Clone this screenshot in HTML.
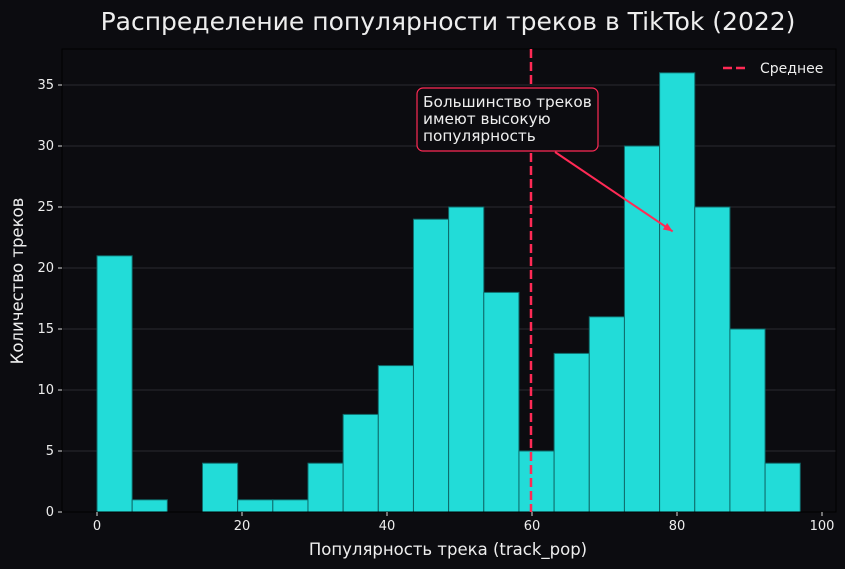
<!DOCTYPE html>
<html><head><meta charset="utf-8"><style>
body{margin:0;background:#0c0c10;}
svg{display:block;font-family:"DejaVu Sans","Liberation Sans",sans-serif;}
</style></head><body>
<svg id="chart" width="845" height="569">
<rect width="845" height="569" fill="#0c0c10"/>
<text x="448" y="30" fill="#eeeeee" font-size="25" text-anchor="middle">Распределение популярности треков в TikTok (2022)</text>
<g id="grid"></g><g id="bars"></g><g id="axes"></g>
<text x="448" y="555" fill="#eeeeee" font-size="16.5" text-anchor="middle">Популярность трека (track_pop)</text>
<text transform="translate(23,281) rotate(-90)" fill="#eeeeee" font-size="16.5" text-anchor="middle">Количество треков</text>
</svg>
<script>
const binCounts=[21,1,0,4,1,1,4,8,12,24,25,18,5,13,16,30,36,25,15,4];
const binStart=0, binEnd=97;
const xTicks=[0,20,40,60,80,100];
const yTicks=[0,5,10,15,20,25,30,35];
const meanValue=59.86;
const annotTarget=[79.4,23];
const NS="http://www.w3.org/2000/svg";
const L=62,R=836,T=49,B=512;
const xs=v=>97+v*7.25, ys=v=>512-v*12.2;
function mk(tag,attrs,parent){const e=document.createElementNS(NS,tag);for(const k in attrs)e.setAttribute(k,attrs[k]);parent.appendChild(e);return e;}
const svg=document.getElementById('chart');
const grid=document.getElementById('grid'),bars=document.getElementById('bars'),axes=document.getElementById('axes');
mk('rect',{x:L,y:T,width:R-L,height:B-T,fill:'#0c0c10'},grid);
yTicks.forEach(v=>{if(v===0)return;const l=mk('line',{x1:L,x2:R,y1:ys(v),y2:ys(v),stroke:'#2a2a30','stroke-width':1},grid);

});
const w=(binEnd-binStart)/binCounts.length;
binCounts.forEach((c,i)=>{if(c===0)return;const x0=xs(binStart+i*w),x1=xs(binStart+(i+1)*w);
const r=mk('rect',{x:x0,y:ys(c),width:x1-x0,height:ys(0)-ys(c),fill:'#22dcd8',stroke:'#0e6a6a','stroke-width':1},bars);

});
mk('rect',{x:L,y:T,width:R-L,height:B-T,fill:'none',stroke:'#000','stroke-width':1},axes);
xTicks.forEach(v=>{mk('line',{x1:xs(v),x2:xs(v),y1:B,y2:B+4,stroke:'#ddd'},axes);
const t=mk('text',{x:xs(v),y:B+18,fill:'#eeeeee','font-size':13,'text-anchor':'middle'},axes);t.textContent=v;

});
yTicks.forEach(v=>{mk('line',{x1:L-4,x2:L,y1:ys(v),y2:ys(v),stroke:'#ddd'},axes);
const t=mk('text',{x:L-8,y:ys(v)+4,fill:'#eeeeee','font-size':13,'text-anchor':'end'},axes);t.textContent=v;

});
const ml=mk('line',{x1:xs(meanValue),x2:xs(meanValue),y1:T,y2:B,stroke:'#ff2a55','stroke-width':2.5,'stroke-dasharray':'9,4'},axes);


const ax=xs(annotTarget[0]),ay=ys(annotTarget[1]);
const ar=mk('line',{x1:555,y1:152,x2:ax,y2:ay,stroke:'#ff2a55','stroke-width':2},axes);


const ang=Math.atan2(ay-152,ax-555);
mk('polygon',{points:`${ax},${ay} ${ax-10*Math.cos(ang-0.4)},${ay-10*Math.sin(ang-0.4)} ${ax-10*Math.cos(ang+0.4)},${ay-10*Math.sin(ang+0.4)}`,fill:'#ff2a55'},axes);
const box=mk('rect',{x:417,y:88,width:181,height:63,rx:6,fill:'#0c0c10',stroke:'#ff2a55','stroke-width':1.2},axes);


['Большинство треков','имеют высокую','популярность'].forEach((s,i)=>{const t=mk('text',{x:423,y:107+i*17,fill:'#eeeeee','font-size':15.3},axes);t.textContent=s;

});
const lg=mk('g',{},axes);


mk('line',{x1:723,x2:749,y1:68,y2:68,stroke:'#ff2a55','stroke-width':2.5,'stroke-dasharray':'9,4'},lg);
const lt=mk('text',{x:760,y:73,fill:'#eeeeee','font-size':14},lg);lt.textContent='Среднее';
</script>
</body></html>
